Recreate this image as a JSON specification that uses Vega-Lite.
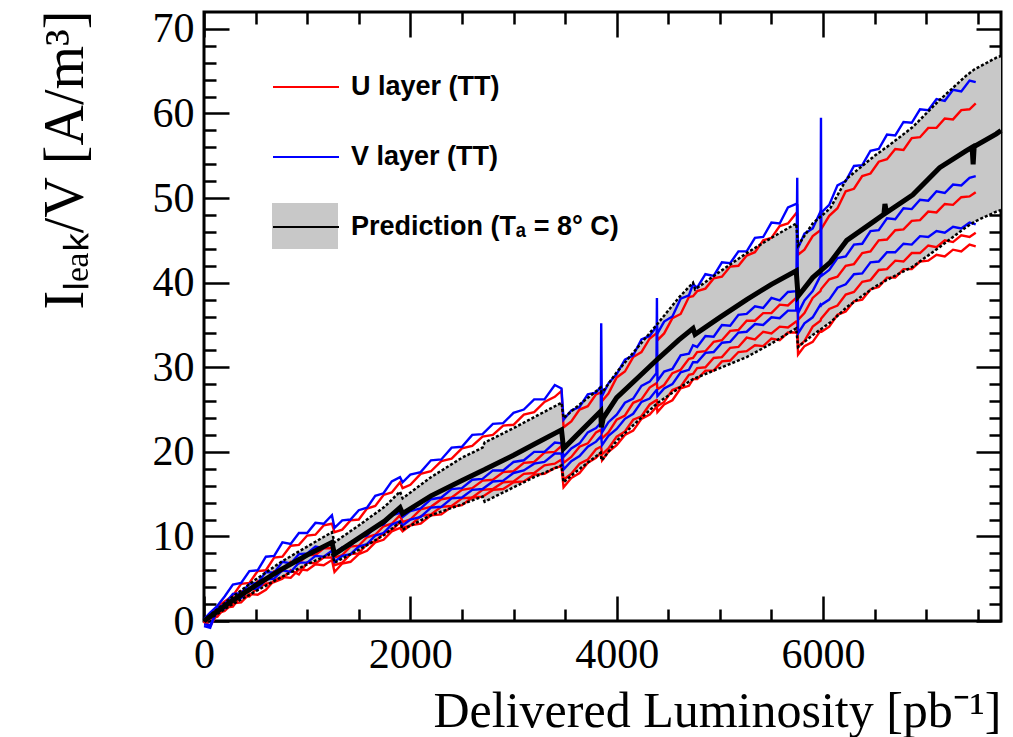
{
"$schema": "https://vega.github.io/schema/vega-lite/v6.json",
"width": 797, "height": 609,
"autosize": "none",
"padding": {"left": 204, "top": 12, "right": 12, "bottom": 116},
"background": "white",
"datasets": {
"layers": [{"k":"V1","layer":"V layer (TT)"},{"k":"V2","layer":"V layer (TT)"},{"k":"V3","layer":"V layer (TT)"},{"k":"U1","layer":"U layer (TT)"},{"k":"U2","layer":"U layer (TT)"},{"k":"U3","layer":"U layer (TT)"},{"k":"U4","layer":"U layer (TT)"}],
"band": [
{"x":0,"lo":0,"mid":0,"hi":0},{"x":100,"lo":0.6,"mid":0.9,"hi":1.1},{"x":250,"lo":1.8,"mid":2.2,"hi":2.6},{"x":500,"lo":3.5,"mid":4.2,"hi":4.9},{"x":750,"lo":5.2,"mid":6.1,"hi":7.0},{"x":1000,"lo":6.7,"mid":7.8,"hi":8.8},{"x":1240,"lo":8.0,"mid":9.3,"hi":10.5},{"x":1265,"lo":6.9,"mid":7.9,"hi":9.3},{"x":1500,"lo":8.4,"mid":9.8,"hi":11.3},{"x":1750,"lo":10.2,"mid":11.8,"hi":13.5},{"x":1900,"lo":11.7,"mid":13.4,"hi":15.3},{"x":1925,"lo":10.8,"mid":12.7,"hi":14.5},{"x":2200,"lo":12.5,"mid":14.8,"hi":17.0},{"x":2500,"lo":13.8,"mid":16.6,"hi":19.3},{"x":2700,"lo":14.7,"mid":17.8,"hi":20.5},{"x":2720,"lo":14.1,"mid":17.9,"hi":21.1},{"x":3000,"lo":15.8,"mid":19.6,"hi":22.8},{"x":3200,"lo":17.0,"mid":20.9,"hi":24.1},{"x":3465,"lo":18.4,"mid":22.6,"hi":25.8},{"x":3485,"lo":16.4,"mid":20.4,"hi":24.0},{"x":3600,"lo":17.6,"mid":21.8,"hi":25.2},{"x":3845,"lo":19.9,"mid":24.8,"hi":27.6},{"x":3852,"lo":19.0,"mid":22.9,"hi":27.0},{"x":3870,"lo":19.2,"mid":24.0,"hi":27.2},{"x":4000,"lo":21.3,"mid":26.4,"hi":29.4},{"x":4200,"lo":23.6,"mid":28.7,"hi":32.3},{"x":4400,"lo":25.8,"mid":31.0,"hi":35.2},{"x":4600,"lo":27.5,"mid":33.2,"hi":38.2},{"x":4740,"lo":28.6,"mid":34.6,"hi":40.0},{"x":4760,"lo":28.7,"mid":33.9,"hi":39.2},{"x":5000,"lo":29.9,"mid":35.9,"hi":41.3},{"x":5260,"lo":31.2,"mid":38.0,"hi":43.5},{"x":5500,"lo":32.8,"mid":39.8,"hi":45.3},{"x":5740,"lo":34.6,"mid":41.4,"hi":47.0},{"x":5758,"lo":32.4,"mid":38.4,"hi":44.4},{"x":5900,"lo":33.8,"mid":40.6,"hi":47.0},{"x":6070,"lo":35.3,"mid":42.4,"hi":48.8},{"x":6230,"lo":37.1,"mid":45.0,"hi":52.3},{"x":6500,"lo":39.5,"mid":47.3,"hi":55.0},{"x":6590,"lo":40.1,"mid":48.1,"hi":55.8},{"x":6600,"lo":40.2,"mid":49.3,"hi":55.9},{"x":6615,"lo":40.3,"mid":48.3,"hi":56.0},{"x":6870,"lo":41.9,"mid":50.4,"hi":58.4},{"x":7130,"lo":44.2,"mid":53.6,"hi":61.6},{"x":7390,"lo":46.6,"mid":55.6,"hi":64.5},{"x":7445,"lo":47.0,"mid":56.0,"hi":65.0},{"x":7455,"lo":47.1,"mid":54.0,"hi":65.1},{"x":7465,"lo":47.2,"mid":56.1,"hi":65.2},{"x":7680,"lo":48.4,"mid":57.6,"hi":66.6},{"x":7725,"lo":48.6,"mid":58.0,"hi":66.8}
],
"meas": [
{"x":0,"V1":0.2,"U1":-0.3,"V2":-0.6,"U2":0.1,"V3":-0.4,"U3":-0.2,"U4":0},
{"x":60,"V1":1.0,"U1":0.6,"V2":-0.8,"U2":0.5,"V3":-0.5,"U3":0.3,"U4":-0.6},
{"x":130,"V1":1.8,"U1":1.7,"V2":1.5,"U2":0.8,"V3":1.2,"U3":0.5,"U4":0.9},
{"x":200,"V1":2.9,"U1":2.3,"V2":2.0,"U2":2.0,"V3":1.5,"U3":1.6,"U4":1.2},
{"x":280,"V1":4.3,"U1":3.0,"V2":3.2,"U2":2.2,"V3":2.6,"U3":1.7,"U4":2.1},
{"x":360,"V1":4.5,"U1":4.4,"V2":3.3,"U2":3.5,"V3":2.7,"U3":3.0,"U4":2.2},
{"x":440,"V1":5.9,"U1":4.5,"V2":4.4,"U2":3.5,"V3":3.8,"U3":2.9,"U4":3.2},
{"x":520,"V1":6.0,"U1":5.9,"V2":4.5,"U2":4.7,"V3":3.8,"U3":4.0,"U4":3.1},
{"x":600,"V1":7.6,"U1":6.0,"V2":5.8,"U2":4.7,"V3":4.9,"U3":4.4,"U4":3.7},
{"x":680,"V1":7.7,"U1":7.5,"V2":5.7,"U2":5.9,"V3":5.0,"U3":4.6,"U4":4.8},
{"x":760,"V1":9.3,"U1":7.6,"V2":7.0,"U2":5.9,"V3":6.0,"U3":5.0,"U4":5.2},
{"x":840,"V1":9.1,"U1":8.9,"V2":6.8,"U2":7.0,"V3":5.8,"U3":6.0,"U4":5.1},
{"x":920,"V1":10.4,"U1":9.0,"V2":7.9,"U2":6.8,"V3":6.9,"U3":5.5,"U4":6.1},
{"x":1000,"V1":10.4,"U1":10.1,"V2":8.0,"U2":7.8,"V3":6.9,"U3":6.9,"U4":6.0},
{"x":1080,"V1":11.6,"U1":10.2,"V2":8.8,"U2":7.8,"V3":7.7,"U3":6.8,"U4":6.7},
{"x":1160,"V1":11.5,"U1":11.3,"V2":8.6,"U2":8.6,"V3":7.6,"U3":7.5,"U4":6.6},
{"x":1240,"V1":12.5,"U1":11.5,"V2":9.4,"U2":8.6,"V3":8.3,"U3":7.5,"U4":7.2},
{"x":1265,"V1":11.0,"U1":10.5,"V2":8.0,"U2":7.5,"V3":7.0,"U3":6.6,"U4":5.8},
{"x":1340,"V1":11.9,"U1":10.8,"V2":8.7,"U2":7.8,"V3":7.7,"U3":6.9,"U4":6.8},
{"x":1420,"V1":12.0,"U1":11.9,"V2":8.9,"U2":8.8,"V3":7.9,"U3":7.9,"U4":7.0},
{"x":1500,"V1":13.1,"U1":12.0,"V2":9.9,"U2":8.9,"V3":8.8,"U3":8.0,"U4":7.9},
{"x":1580,"V1":13.4,"U1":13.3,"V2":10.1,"U2":9.9,"V3":9.1,"U3":9.1,"U4":8.3},
{"x":1660,"V1":14.8,"U1":13.6,"V2":11.2,"U2":10.2,"V3":10.1,"U3":9.4,"U4":9.3},
{"x":1740,"V1":15.1,"U1":14.9,"V2":11.4,"U2":11.2,"V3":10.4,"U3":10.4,"U4":9.6},
{"x":1820,"V1":16.5,"U1":15.2,"V2":12.5,"U2":11.5,"V3":11.4,"U3":10.7,"U4":10.6},
{"x":1900,"V1":17.0,"U1":16.4,"V2":12.8,"U2":12.5,"V3":11.8,"U3":11.7,"U4":11.0},
{"x":1925,"V1":16.4,"U1":15.7,"V2":12.3,"U2":11.7,"V3":11.3,"U3":11.0,"U4":10.6},
{"x":2000,"V1":17.3,"U1":16.1,"V2":13.0,"U2":12.0,"V3":12.0,"U3":11.3,"U4":11.3},
{"x":2100,"V1":17.6,"U1":17.4,"V2":13.3,"U2":13.2,"V3":12.3,"U3":12.4,"U4":11.5},
{"x":2200,"V1":19.0,"U1":17.7,"V2":14.4,"U2":13.5,"V3":13.4,"U3":12.6,"U4":12.5},
{"x":2300,"V1":19.1,"U1":18.9,"V2":14.6,"U2":14.4,"V3":13.5,"U3":13.5,"U4":12.6},
{"x":2400,"V1":20.5,"U1":19.2,"V2":15.6,"U2":14.6,"V3":14.5,"U3":13.6,"U4":13.5},
{"x":2500,"V1":20.6,"U1":20.4,"V2":15.7,"U2":15.5,"V3":14.6,"U3":14.5,"U4":13.7},
{"x":2600,"V1":22.0,"U1":20.7,"V2":16.7,"U2":15.7,"V3":15.5,"U3":14.6,"U4":14.6},
{"x":2700,"V1":22.1,"U1":21.8,"V2":16.8,"U2":16.6,"V3":15.6,"U3":15.5,"U4":14.7},
{"x":2800,"V1":23.3,"U1":22.0,"V2":17.8,"U2":16.7,"V3":16.5,"U3":15.6,"U4":15.5},
{"x":2900,"V1":23.4,"U1":23.1,"V2":17.8,"U2":17.6,"V3":16.6,"U3":16.4,"U4":15.6},
{"x":3000,"V1":24.6,"U1":23.2,"V2":18.8,"U2":17.7,"V3":17.5,"U3":16.5,"U4":16.4},
{"x":3100,"V1":25.0,"U1":24.4,"V2":19.0,"U2":18.7,"V3":17.8,"U3":17.4,"U4":16.5},
{"x":3200,"V1":26.2,"U1":24.7,"V2":20.0,"U2":18.8,"V3":18.6,"U3":17.5,"U4":17.3},
{"x":3300,"V1":26.2,"U1":25.9,"V2":20.0,"U2":19.9,"V3":18.8,"U3":18.4,"U4":17.4},
{"x":3400,"V1":27.9,"U1":26.5,"V2":21.1,"U2":20.0,"V3":19.8,"U3":18.6,"U4":18.1},
{"x":3465,"V1":27.5,"U1":27.2,"V2":21.0,"U2":20.7,"V3":19.8,"U3":19.1,"U4":18.3},
{"x":3485,"V1":23.8,"U1":22.9,"V2":19.4,"U2":18.7,"V3":17.9,"U3":16.7,"U4":15.8},
{"x":3560,"V1":24.9,"U1":23.6,"V2":20.4,"U2":19.4,"V3":18.9,"U3":17.4,"U4":16.9},
{"x":3640,"V1":25.3,"U1":25.0,"V2":21.0,"U2":20.6,"V3":19.5,"U3":18.6,"U4":17.5},
{"x":3720,"V1":26.8,"U1":25.4,"V2":22.3,"U2":21.0,"V3":20.6,"U3":19.1,"U4":18.7},
{"x":3800,"V1":27.0,"U1":26.8,"V2":22.8,"U2":22.3,"V3":21.2,"U3":20.3,"U4":19.3},
{"x":3845,"V1":27.7,"U1":27.0,"V2":23.4,"U2":22.6,"V3":21.8,"U3":20.6,"U4":19.9},
{"x":3850,"V1":27.6,"U1":26.9,"V2":35.2,"U2":22.5,"V3":21.7,"U3":20.5,"U4":19.8},
{"x":3858,"V1":26.6,"U1":26.0,"V2":22.3,"U2":21.6,"V3":20.8,"U3":19.7,"U4":19.0},
{"x":3920,"V1":28.1,"U1":26.9,"V2":23.5,"U2":22.3,"V3":21.9,"U3":20.4,"U4":20.0},
{"x":4000,"V1":29.2,"U1":28.8,"V2":24.4,"U2":23.8,"V3":22.7,"U3":21.8,"U4":20.8},
{"x":4080,"V1":30.9,"U1":29.5,"V2":25.8,"U2":24.3,"V3":23.9,"U3":22.4,"U4":22.0},
{"x":4160,"V1":31.4,"U1":31.2,"V2":26.3,"U2":25.8,"V3":24.5,"U3":23.8,"U4":22.5},
{"x":4240,"V1":33.3,"U1":31.8,"V2":27.8,"U2":26.2,"V3":25.9,"U3":24.2,"U4":23.9},
{"x":4320,"V1":33.7,"U1":33.4,"V2":28.3,"U2":27.6,"V3":26.3,"U3":25.6,"U4":24.4},
{"x":4385,"V1":34.8,"U1":34.0,"V2":29.3,"U2":28.1,"V3":27.3,"U3":26.1,"U4":25.3},
{"x":4390,"V1":34.8,"U1":34.0,"V2":38.2,"U2":28.1,"V3":27.3,"U3":26.1,"U4":25.3},
{"x":4395,"V1":34.0,"U1":33.2,"V2":28.4,"U2":27.4,"V3":26.6,"U3":25.4,"U4":24.7},
{"x":4460,"V1":35.4,"U1":34.0,"V2":29.5,"U2":27.9,"V3":27.5,"U3":25.9,"U4":25.6},
{"x":4540,"V1":36.0,"U1":35.8,"V2":29.8,"U2":29.3,"V3":28.0,"U3":27.3,"U4":26.1},
{"x":4620,"V1":38.1,"U1":36.3,"V2":31.4,"U2":29.7,"V3":29.4,"U3":27.7,"U4":27.5},
{"x":4700,"V1":38.5,"U1":38.3,"V2":31.6,"U2":31.0,"V3":29.7,"U3":29.1,"U4":27.8},
{"x":4740,"V1":39.8,"U1":38.4,"V2":32.6,"U2":31.1,"V3":30.6,"U3":29.2,"U4":28.6},
{"x":4780,"V1":39.4,"U1":39.0,"V2":32.4,"U2":31.8,"V3":30.6,"U3":29.9,"U4":28.6},
{"x":4860,"V1":41.0,"U1":39.3,"V2":33.7,"U2":31.9,"V3":31.7,"U3":30.0,"U4":29.6},
{"x":4940,"V1":40.8,"U1":40.5,"V2":33.6,"U2":33.0,"V3":31.8,"U3":31.1,"U4":29.6},
{"x":5020,"V1":42.4,"U1":40.7,"V2":35.0,"U2":33.2,"V3":32.9,"U3":31.2,"U4":30.7},
{"x":5100,"V1":42.3,"U1":41.9,"V2":34.9,"U2":34.3,"V3":33.0,"U3":32.3,"U4":30.8},
{"x":5180,"V1":43.7,"U1":42.0,"V2":36.2,"U2":34.4,"V3":34.1,"U3":32.4,"U4":31.8},
{"x":5260,"V1":43.7,"U1":43.2,"V2":36.3,"U2":35.5,"V3":34.2,"U3":33.5,"U4":31.9},
{"x":5340,"V1":45.3,"U1":43.6,"V2":37.2,"U2":35.5,"V3":35.1,"U3":33.3,"U4":32.6},
{"x":5420,"V1":45.4,"U1":45.0,"V2":37.0,"U2":36.4,"V3":35.0,"U3":34.2,"U4":32.5},
{"x":5500,"V1":47.1,"U1":45.3,"V2":38.2,"U2":36.4,"V3":35.9,"U3":34.0,"U4":33.4},
{"x":5580,"V1":47.0,"U1":46.7,"V2":37.9,"U2":37.4,"V3":35.8,"U3":34.8,"U4":33.2},
{"x":5660,"V1":48.9,"U1":47.0,"V2":38.9,"U2":37.3,"V3":36.7,"U3":34.7,"U4":34.1},
{"x":5740,"V1":49.3,"U1":48.2,"V2":39.0,"U2":38.2,"V3":36.7,"U3":35.4,"U4":34.1},
{"x":5750,"V1":49.2,"U1":48.1,"V2":39.2,"U2":38.1,"V3":52.4,"U3":35.3,"U4":34.3},
{"x":5758,"V1":44.1,"U1":43.3,"V2":36.4,"U2":35.6,"V3":34.0,"U3":32.4,"U4":31.5},
{"x":5820,"V1":45.8,"U1":43.9,"V2":37.9,"U2":36.4,"V3":35.2,"U3":33.1,"U4":32.5},
{"x":5900,"V1":46.4,"U1":45.5,"V2":39.0,"U2":38.2,"V3":35.9,"U3":34.8,"U4":33.0},
{"x":5975,"V1":48.4,"U1":46.2,"V2":40.8,"U2":39.0,"V3":37.4,"U3":35.5,"U4":34.3},
{"x":5980,"V1":48.2,"U1":46.4,"V2":59.5,"U2":39.2,"V3":37.3,"U3":35.7,"U4":34.2},
{"x":5985,"V1":48.3,"U1":46.4,"V2":40.8,"U2":39.3,"V3":37.4,"U3":35.8,"U4":34.2},
{"x":6060,"V1":49.2,"U1":47.9,"V2":41.5,"U2":40.4,"V3":38.0,"U3":36.9,"U4":34.8},
{"x":6140,"V1":51.5,"U1":48.8,"V2":42.9,"U2":40.7,"V3":39.4,"U3":37.3,"U4":36.2},
{"x":6220,"V1":52.0,"U1":50.8,"V2":43.1,"U2":42.0,"V3":39.8,"U3":38.6,"U4":36.6},
{"x":6300,"V1":53.8,"U1":51.1,"V2":44.5,"U2":42.2,"V3":41.0,"U3":38.9,"U4":37.8},
{"x":6380,"V1":53.9,"U1":52.6,"V2":44.6,"U2":43.5,"V3":41.1,"U3":40.1,"U4":38.0},
{"x":6460,"V1":55.6,"U1":52.9,"V2":46.1,"U2":43.7,"V3":42.4,"U3":40.3,"U4":39.2},
{"x":6540,"V1":55.8,"U1":54.3,"V2":46.2,"U2":45.0,"V3":42.5,"U3":41.5,"U4":39.5},
{"x":6620,"V1":57.5,"U1":54.6,"V2":47.6,"U2":45.1,"V3":43.6,"U3":41.6,"U4":40.6},
{"x":6700,"V1":57.4,"U1":55.8,"V2":47.5,"U2":46.2,"V3":43.6,"U3":42.6,"U4":40.6},
{"x":6780,"V1":59.0,"U1":55.7,"V2":48.8,"U2":46.3,"V3":44.6,"U3":42.5,"U4":41.6},
{"x":6860,"V1":58.9,"U1":57.1,"V2":48.7,"U2":47.3,"V3":44.5,"U3":43.5,"U4":41.6},
{"x":6940,"V1":60.5,"U1":57.2,"V2":49.8,"U2":47.4,"V3":45.5,"U3":43.5,"U4":42.5},
{"x":7020,"V1":60.4,"U1":58.3,"V2":49.7,"U2":48.4,"V3":45.4,"U3":44.4,"U4":42.6},
{"x":7100,"V1":61.7,"U1":58.3,"V2":50.8,"U2":48.3,"V3":46.1,"U3":44.2,"U4":43.3},
{"x":7180,"V1":61.5,"U1":59.4,"V2":50.6,"U2":49.3,"V3":45.9,"U3":45.0,"U4":43.1},
{"x":7260,"V1":62.8,"U1":59.3,"V2":51.6,"U2":49.2,"V3":46.6,"U3":44.8,"U4":43.9},
{"x":7340,"V1":62.6,"U1":60.4,"V2":51.5,"U2":50.1,"V3":46.4,"U3":45.6,"U4":43.7},
{"x":7420,"V1":63.9,"U1":60.5,"V2":52.4,"U2":50.2,"V3":47.1,"U3":45.4,"U4":44.5},
{"x":7480,"V1":63.7,"U1":61.2,"V2":52.6,"U2":50.7,"V3":46.9,"U3":45.9,"U4":44.3}
]
},
"layer": [
{
"data": {"name": "band"},
"mark": {"type": "area", "color": "#c8c8c8"},
"encoding": {
"x": {"field": "x", "type": "quantitative", "scale": {"domain": [0, 7725], "nice": false, "zero": false},
  "axis": {"orient": "bottom", "values": [0,500,1000,1500,2000,2500,3000,3500,4000,4500,5000,5500,6000,6500,7000,7500],
    "tickSize": {"condition": {"test": "datum.value % 2000 === 0", "value": -25}, "value": -12},
    "labelExpr": "datum.value % 2000 === 0 ? datum.label : ''", "format": "d", "labelPadding": 38,
    "title": "Delivered Luminosity [pb⁻¹]", "titleX": 797, "titleY": 105, "titleAlign": "right", "titleBaseline": "alphabetic", "titleAnchor": "end"}},
"y": {"field": "lo", "type": "quantitative", "scale": {"domain": [0, 72], "nice": false, "zero": false},
  "axis": {"orient": "left", "values": [0,2,4,6,8,10,12,14,16,18,20,22,24,26,28,30,32,34,36,38,40,42,44,46,48,50,52,54,56,58,60,62,64,66,68,70],
    "tickSize": {"condition": {"test": "datum.value % 10 === 0", "value": -25}, "value": -12},
    "labelExpr": "datum.value % 10 === 0 ? datum.label : ''", "labelPadding": 35,
    "title": "Iₗₑₐₖ/V [A/m³]", "titleFontSize": 56, "titleX": -122, "titleY": -2, "titleAngle": 270, "titleAlign": "right", "titleBaseline": "alphabetic", "titleAnchor": "end"}},
"y2": {"field": "hi"},
"fill": {"datum": "band", "scale": {"range": ["#c8c8c8"]},
  "legend": {"orient": "none", "legendX": 68, "legendY": 181, "labelExpr": "''", "symbolType": "M-1,-0.7H1V0.7H-1Z", "symbolSize": 4356, "symbolStrokeWidth": 0, "symbolOpacity": 1, "title": null, "zindex": 0, "padding": 0}}
}
},
{
"data": {"name": "meas"},
"transform": [
  {"fold": ["U1","U2","U3","U4","V1","V2","V3"], "as": ["k","y"]},
  {"lookup": "k", "from": {"data": {"name": "layers"}, "key": "k", "fields": ["layer"]}}
],
"mark": {"type": "line", "strokeWidth": 2.4},
"encoding": {
"x": {"field": "x", "type": "quantitative", "scale": {"domain": [0, 7725], "nice": false, "zero": false}, "axis": null},
"y": {"field": "y", "type": "quantitative", "scale": {"domain": [0, 72], "nice": false, "zero": false}, "axis": null},
"detail": {"field": "k", "type": "nominal"},
"order": {"field": "x", "type": "quantitative"},
"stroke": {"field": "layer", "type": "nominal",
  "scale": {"domain": ["U layer (TT)", "V layer (TT)", "Prediction (Tₐ = 8° C)"], "range": ["#ff0000", "#0000ff", "#000000"]},
  "legend": {"orient": "none", "legendX": 68, "legendY": 41, "title": null, "symbolType": "stroke", "symbolSize": 4356, "symbolStrokeWidth": 2, "rowPadding": 23, "labelOffset": 11, "labelLimit": 500, "labelFont": "Liberation Sans", "labelFontWeight": "bold", "labelFontSize": 27, "labelColor": "#000", "zindex": 1, "padding": 0}}
}
},
{
"data": {"name": "band"},
"mark": {"type": "line", "color": "#000", "strokeWidth": 2.5, "strokeDash": [3, 2]},
"encoding": {
"x": {"field": "x", "type": "quantitative", "scale": {"domain": [0, 7725], "nice": false, "zero": false},
  "axis": {"orient": "top", "values": [0,500,1000,1500,2000,2500,3000,3500,4000,4500,5000,5500,6000,6500,7000,7500],
    "tickSize": {"condition": {"test": "datum.value % 2000 === 0", "value": -25}, "value": -12}, "labels": false, "title": null}},
"y": {"field": "hi", "type": "quantitative", "scale": {"domain": [0, 72], "nice": false, "zero": false},
  "axis": {"orient": "right", "values": [0,2,4,6,8,10,12,14,16,18,20,22,24,26,28,30,32,34,36,38,40,42,44,46,48,50,52,54,56,58,60,62,64,66,68,70],
    "tickSize": {"condition": {"test": "datum.value % 10 === 0", "value": -25}, "value": -12}, "labels": false, "title": null}}
}
},
{
"data": {"name": "band"},
"mark": {"type": "line", "color": "#000", "strokeWidth": 2.5, "strokeDash": [3, 2]},
"encoding": {
"x": {"field": "x", "type": "quantitative", "scale": {"domain": [0, 7725], "nice": false, "zero": false}, "axis": null},
"y": {"field": "lo", "type": "quantitative", "scale": {"domain": [0, 72], "nice": false, "zero": false}, "axis": null}
}
},
{
"data": {"name": "band"},
"mark": {"type": "line", "strokeWidth": 5},
"encoding": {
"x": {"field": "x", "type": "quantitative", "scale": {"domain": [0, 7725], "nice": false, "zero": false}, "axis": null},
"y": {"field": "mid", "type": "quantitative", "scale": {"domain": [0, 72], "nice": false, "zero": false}, "axis": null},
"stroke": {"datum": "Prediction (Tₐ = 8° C)"}
}
}
],
"resolve": {"axis": {"x": "independent", "y": "independent"}, "scale": {"x": "shared", "y": "shared"}},
"config": {
"view": {"stroke": "#000", "strokeWidth": 3},
"axis": {"domain": false, "grid": false, "tickColor": "#000", "tickWidth": 2.5, "labelFont": "Liberation Serif", "labelFontSize": 42, "labelColor": "#000", "titleFont": "Liberation Serif", "titleFontWeight": "normal", "titleColor": "#000", "titleFontSize": 50, "labelOverlap": false, "labelFlush": false, "labelBound": false}
}
}
